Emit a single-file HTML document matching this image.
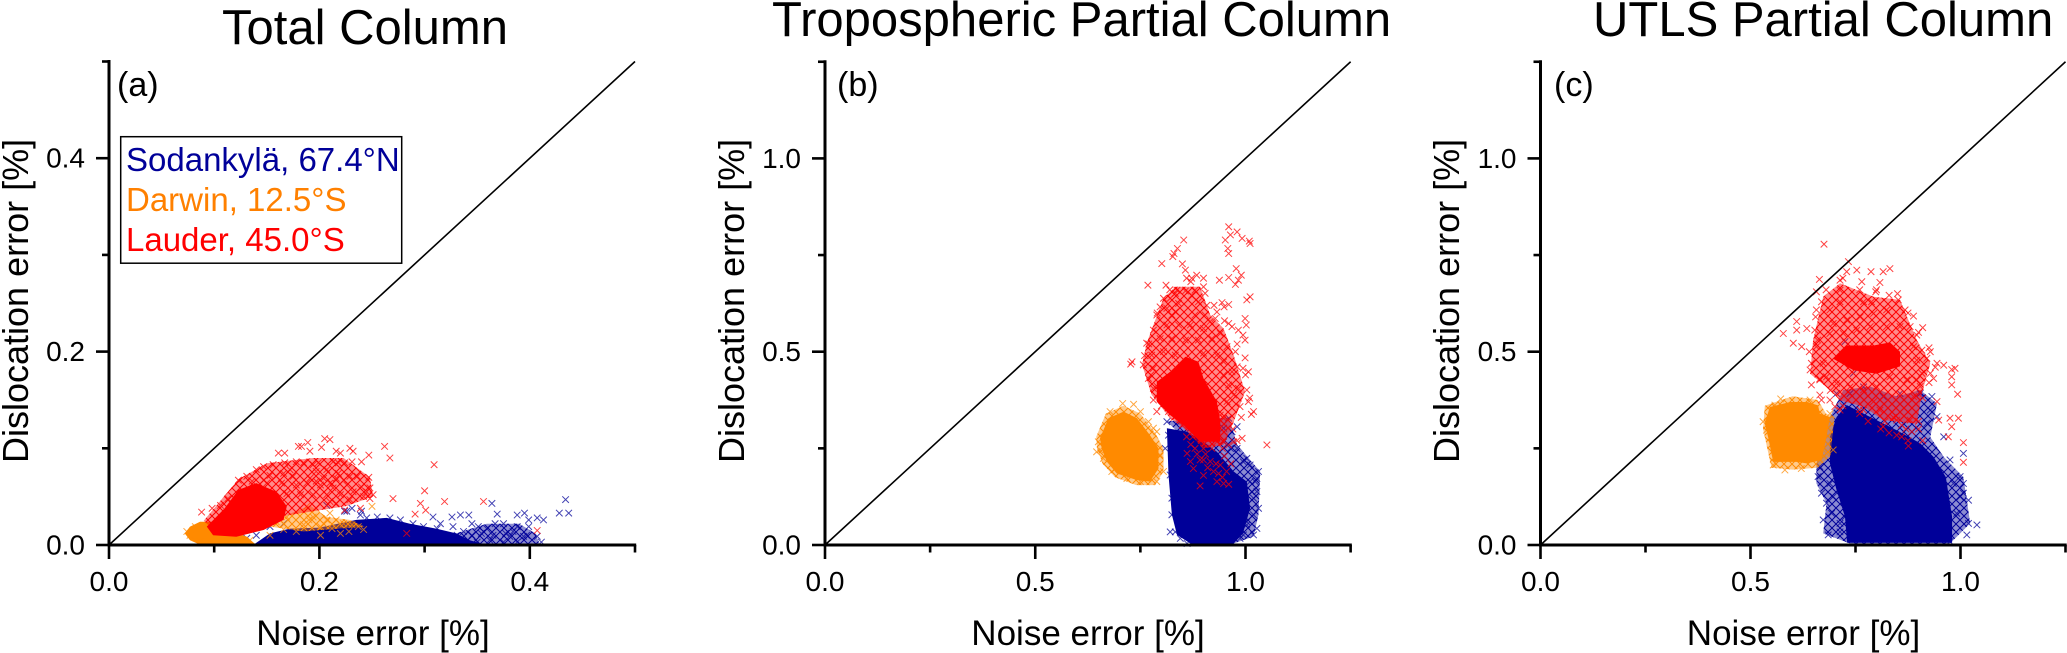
<!DOCTYPE html>
<html lang="en">
<head>
<meta charset="utf-8">
<title>Total Column, Tropospheric and UTLS Partial Column error scatter</title>
<style>
html,body{margin:0;padding:0;background:#fff;width:2067px;height:653px;overflow:hidden}
svg{display:block;font-family:"Liberation Sans",Arial,sans-serif}
</style>
</head>
<body>
<svg id="figure" xmlns="http://www.w3.org/2000/svg" width="2067" height="653" viewBox="0 0 2067 653">
<defs>
<pattern id="mesh-blue" width="8" height="8" patternUnits="userSpaceOnUse"><path d="M0 0L8 8M8 0L0 8M-4 4L4 12M4 -4L12 4M-4 4L4 -4M4 12L12 4" stroke="#000099" stroke-width="1" fill="none"/></pattern>
<pattern id="mesh-orange" width="8" height="8" patternUnits="userSpaceOnUse"><path d="M0 0L8 8M8 0L0 8M-4 4L4 12M4 -4L12 4M-4 4L4 -4M4 12L12 4" stroke="#ff8a00" stroke-width="1" fill="none"/></pattern>
<pattern id="mesh-red" width="8" height="8" patternUnits="userSpaceOnUse"><path d="M0 0L8 8M8 0L0 8M-4 4L4 12M4 -4L12 4M-4 4L4 -4M4 12L12 4" stroke="#ff0000" stroke-width="1" fill="none"/></pattern>
</defs>
<rect width="2067" height="653" fill="#fff"/>
<text x="222" y="44" font-size="49">Total Column</text>
<text x="772" y="36" font-size="49">Tropospheric Partial Column</text>
<text x="1593" y="36" font-size="49">UTLS Partial Column</text>
<g id="panel-a"></g>
<g id="panel-b"></g>
<g id="panel-c"></g>
<text x="117" y="96" font-size="34">(a)</text>
<text x="837" y="96" font-size="34">(b)</text>
<text x="1554" y="96" font-size="34">(c)</text>
<text x="373" y="645" font-size="35" text-anchor="middle">Noise error [%]</text>
<text x="1088" y="645" font-size="35" text-anchor="middle">Noise error [%]</text>
<text x="1803.5" y="645" font-size="35" text-anchor="middle">Noise error [%]</text>
<text transform="translate(28,463) rotate(-90)" font-size="36">Dislocation error [%]</text>
<text transform="translate(744,463) rotate(-90)" font-size="36">Dislocation error [%]</text>
<text transform="translate(1459,463) rotate(-90)" font-size="36">Dislocation error [%]</text>
<g>
<rect x="120.7" y="136.7" width="281" height="126.5" fill="#fff" stroke="#000" stroke-width="1.5"/>
<text x="126" y="171" font-size="33" fill="#000099">Sodankylä, 67.4°N</text>
<text x="126" y="211" font-size="33" fill="#ff8000">Darwin, 12.5°S</text>
<text x="126" y="251" font-size="33" fill="#ff0000">Lauder, 45.0°S</text>
</g>
</svg>
<script>
// Axis ticks
const ticksTotal=[0,.1,.2,.3,.4,.5];
const tickLabelsTotal=['0.0','','0.2','','0.4',''];
const ticksPartial=[0,.25,.5,.75,1,1.25];
const tickLabelsPartial=['0.0','','0.5','','1.0',''];

// Series are flat x,y,x,y value lists in percent.
// Total column
const totalSodankylaPoints=[.231,.038,.226,.035,.24,.035,.255,.029,.245,.028,.267,.028,.277,.026,.289,.022,.308,.029,.315,.022,.326,.029,.334,.031,.342,.031,.345,.022,.327,.019,.351,.019,.364,.043,.369,.032,.375,.022,.388,.031,.395,.033,.399,.026,.399,.019,.407,.028,.413,.026,.434,.047,.428,.033,.437,.033,.388,.019,.377,.012,.367,.022,.359,.017,.354,.012,.345,.01,.365,.01,.381,.009,.394,.009,.407,.009,.411,.003,.384,.014,.397,.01,.337,.014,.331,.01,.362,.005,.375,.003,.388,.003,.35,.003,.312,.017,.299,.019,.131,.007,.14,.01,.153,.019,.166,.022,.207,.041,.224,.035,.239,.031];
const totalSodankylaCore=[.137,0,.153,.012,.172,.017,.2,.018,.235,.026,.264,.028,.286,.022,.311,.017,.33,.012,.343,.005,.359,0];
const totalSodankylaHaze=[.33,.012,.359,.022,.39,.022,.405,.012,.41,0,.337,0];
const totalDarwinPoints=[.25,.04,.201,.01,.212,.017,.228,.014,.242,.016,.231,.021,.216,.026,.223,.022,.207,.026,.194,.029,.188,.04,.197,.038,.178,.014,.169,.029,.159,.024,.185,.021,.201,.019,.153,.01,.166,.016,.077,.01,.074,.014,.082,.019,.087,.004,.109,.003,.121,.005,.134,.005,.21,.033,.237,.019,.22,.012,.19,.026];
const totalDarwinCore=[.072,.012,.077,.019,.0865,.024,.099,.024,.115,.0155,.131,.0086,.14,0,.085,.001,.077,.005];
const totalDarwinHaze=[.153,.019,.169,.031,.191,.041,.207,.029,.229,.026,.243,.019,.207,.016,.185,.014];
const totalLauderPoints=[.205,.11,.21,.109,.189,.106,.183,.102,.18,.102,.191,.097,.262,.102,.267,.09,.309,.083,.229,.1,.232,.097,.202,.101,.216,.097,.22,.095,.247,.093,.24,.086,.231,.086,.213,.086,.218,.085,.224,.085,.199,.085,.194,.083,.178,.086,.167,.085,.161,.095,.167,.095,.156,.083,.147,.081,.123,.067,.14,.078,.153,.072,.166,.074,.175,.071,.191,.069,.204,.069,.216,.069,.223,.067,.236,.071,.247,.07,.24,.06,.248,.059,.251,.052,.242,.05,.226,.062,.213,.059,.201,.062,.188,.064,.178,.062,.164,.064,.15,.064,.27,.048,.3,.056,.296,.043,.301,.036,.291,.032,.319,.045,.356,.045,.239,.038,.224,.036,.21,.045,.407,.015,.283,.012,.088,.034,.098,.038,.106,.041,.113,.048,.131,.071,.136,.066,.232,.055,.22,.052,.207,.052,.194,.052,.182,.052,.169,.053,.248,.048,.245,.055,.229,.071,.207,.078,.185,.085,.172,.078,.159,.071,.147,.067,.197,.066,.21,.064,.218,.074,.197,.076,.229,.047,.216,.043];
const totalLauderCore=[.093,.019,.11,.038,.123,.057,.14,.064,.159,.055,.169,.04,.166,.026,.147,.0155,.121,.0086,.099,.01];
const totalLauderHaze=[.09,.025,.123,.068,.15,.0845,.194,.09,.223,.09,.248,.07,.251,.05,.225,.04,.2,.036,.166,.03,.13,.012,.1,.015];

// Tropospheric partial column
const tropSodankylaPoints=[.809,.25,.817,.284,.821,.181,.825,.121,.825,.078,.833,.034,.845,.017,.861,.004,1.031,.19,1.023,.164,1.027,.138,1.011,.164,1.019,.121,1.031,.095,1.027,.043,1.019,.026,1.003,.052,.987,.017,.98,.25,1.003,.224,.964,.25,1.011,.207,.96,.328,.98,.306,.968,.293,.948,.302,.9,.302,.916,.276,.869,.302,.845,.319,.813,.319,.948,.267,.849,.388,.995,.215,1.015,.138,.991,.078,1.003,.06,1.019,.078,1.027,.172,.995,.026,.821,.034];
const tropSodankylaCore=[.813,.302,.861,.293,.9,.267,.932,.241,.972,.19,1.003,.164,1.011,.095,.995,.034,.972,.004,.869,.004,.837,.026,.825,.078,.817,.181];
const tropSodankylaHaze=[.813,.32,.96,.33,.972,.29,.98,.259,1.035,.19,1.031,.078,1.019,.022,.972,.004,.97,.15];
const tropDarwinPoints=[.708,.366,.734,.364,.75,.345,.769,.319,.789,.293,.654,.246,.646,.241,.797,.233,.805,.19,.789,.164,.75,.164,.718,.172,.682,.19,.662,.224,.65,.267,.678,.345,.781,.302];
const tropDarwinCore=[.654,.276,.674,.328,.71,.345,.742,.328,.773,.284,.793,.25,.793,.198,.773,.164,.742,.168,.694,.185,.67,.216,.658,.25];
const tropDarwinHaze=[.645,.28,.668,.34,.71,.36,.75,.34,.785,.29,.805,.25,.805,.19,.785,.155,.74,.155,.69,.175,.66,.21,.647,.25];
const tropLauderPoints=[.96,.823,.98,.81,.952,.789,.964,.802,.992,.793,1.011,.78,1.009,.786,.958,.767,.96,.754,.853,.789,.838,.767,.83,.754,.827,.746,.801,.728,.85,.727,.857,.711,.978,.715,.96,.692,.99,.698,.983,.685,.976,.674,.938,.685,.884,.698,.872,.69,.87,.681,.768,.672,.811,.672,1.011,.642,1.003,.634,.9,.668,.904,.651,.833,.651,.837,.659,.857,.657,.805,.638,.821,.638,.841,.625,.872,.646,.88,.659,.888,.629,.908,.62,.944,.627,.96,.622,.949,.616,.932,.603,.797,.616,.813,.612,.833,.603,.825,.595,.789,.595,.88,.595,.904,.595,.928,.586,.916,.578,.999,.586,1.002,.569,.96,.573,.968,.565,.983,.556,.994,.543,.999,.53,.9,.56,.869,.569,.841,.569,.813,.569,.781,.556,.765,.522,.797,.534,.825,.534,.857,.53,.888,.53,.92,.534,.94,.547,.956,.513,.976,.5,.999,.484,.98,.461,.994,.457,1.007,.448,.73,.474,.727,.468,.757,.466,.777,.491,.805,.5,.833,.491,.9,.496,.932,.491,.948,.474,.968,.448,.983,.405,1.003,.401,1.007,.371,1.019,.345,1.014,.338,1.051,.259,.948,.44,.96,.414,.972,.388,.956,.371,.987,.358,.94,.336,.948,.328,.781,.457,.769,.431,.781,.405,.781,.375,.789,.345,.817,.345,.805,.388,.992,.276,.972,.267,.96,.259,.892,.153,.932,.164,.948,.159,.96,.157,.924,.19,.876,.198,.869,.216,.892,.22,.916,.216,.94,.207,.88,.25,.861,.237,.948,.267,.932,.267,.9,.25,.936,.185,.76,.49,.77,.52,.775,.44,.79,.41,.8,.36,.83,.33,.865,.31,.79,.6,.82,.66,.86,.69,.9,.69,.925,.62,.95,.58,.98,.52,1,.44,1.01,.38,.99,.33,.97,.3,.945,.25,.905,.235,.875,.28,.9,.22,.91,.2,.885,.235,.93,.21,.955,.19,.945,.175,.87,.26,.895,.27,.92,.25,.95,.23,.965,.21,.98,.27,.9,.18,.86,.28,.85,.31];
const tropLauderCore=[.789,.422,.821,.448,.857,.487,.888,.474,.9,.431,.932,.371,.94,.319,.94,.267,.892,.267,.853,.31,.821,.336,.789,.371];
const tropLauderHaze=[.781,.569,.805,.638,.833,.668,.892,.668,.916,.595,.948,.56,.972,.491,.999,.397,.972,.319,.948,.259,.9,.25,.853,.302,.821,.328,.777,.388,.754,.466,.765,.522];

// UTLS partial column
const utlsSodankylaPoints=[.725,.526,.745,.444,.705,.392,.737,.392,.769,.409,.816,.384,.856,.392,.904,.392,.932,.384,.928,.349,.944,.332,.92,.315,.96,.28,.975,.22,1.007,.237,.999,.177,.983,.159,1.007,.159,1.019,.116,1.007,.134,1.019,.056,1.015,.026,1.039,.052,.991,.082,.999,.125,.975,.009,.673,.065,.685,.026,.713,.034,.681,.108,.693,.082,.669,.134,.661,.177,.665,.203,.689,.159,.713,.056,.697,.125,.725,.073];
const utlsSodankylaCore=[.705,.331,.729,.362,.785,.331,.848,.297,.904,.263,.936,.228,.965,.176,.98,.073,.98,.006,.73,.006,.725,.073,.705,.142,.689,.211,.689,.279];
const utlsSodankylaHaze=[.657,.211,.689,.331,.721,.401,.785,.41,.848,.384,.904,.401,.944,.366,.928,.279,.96,.228,1.007,.176,1.023,.056,.975,.004,.737,.004,.673,.03,.681,.108,.657,.159];
const utlsDarwinPoints=[.53,.319,.572,.378,.582,.194,.554,.207,.621,.198,.689,.34,.697,.246,.681,.237,.538,.297,.558,.362,.642,.375];
const utlsDarwinCore=[.546,.357,.594,.37,.634,.37,.661,.361,.665,.34,.689,.331,.681,.279,.669,.219,.634,.211,.61,.215,.554,.215,.542,.279,.534,.314];
const utlsDarwinHaze=[.534,.36,.6,.385,.66,.375,.68,.34,.7,.33,.69,.23,.66,.2,.6,.195,.55,.2,.53,.3];
const utlsLauderPoints=[.675,.778,.733,.733,.664,.687,.578,.547,.832,.715,.816,.707,.787,.707,.808,.679,.753,.711,.729,.707,.765,.681,.713,.685,.713,.659,.798,.655,.83,.646,.852,.634,.769,.629,.788,.629,.713,.629,.669,.629,.689,.608,.657,.608,.657,.655,.61,.578,.61,.556,.634,.56,.622,.513,.602,.522,.653,.556,.657,.513,.642,.453,.665,.427,.645,.414,.665,.388,.669,.375,.689,.375,.888,.592,.91,.562,.896,.543,.868,.608,.824,.608,.793,.599,.761,.59,.729,.582,.697,.573,.689,.547,.88,.565,.856,.565,.824,.565,.785,.565,.753,.556,.721,.547,.888,.513,.908,.504,.928,.5,.92,.483,.896,.478,.96,.465,.979,.454,.987,.457,.979,.435,.979,.414,.993,.39,.928,.444,.936,.431,.908,.444,.896,.427,.904,.41,.872,.427,.888,.384,.944,.371,.948,.323,.975,.328,.995,.328,.979,.306,.971,.28,1.007,.265,1.007,.214,.876,.256,.848,.284,.884,.293,.816,.306,.848,.323,.88,.323,.673,.47,.681,.435,.705,.418,.832,.435,.8,.41,.769,.401,.737,.409,.769,.349,.808,.349,.793,.371,.713,.349,.701,.358,.944,.47,.66,.53,.655,.59,.68,.66,.72,.69,.76,.66,.8,.66,.85,.65,.875,.6,.9,.55,.925,.51,.94,.46,.925,.42,.91,.38,.9,.32,.86,.31,.82,.32,.76,.35,.72,.36,.69,.4,.665,.43,.645,.47,.64,.5,.76,.34,.78,.32,.81,.3,.83,.29,.86,.28,.875,.27,.87,.3,.84,.33,.9,.3,.91,.27];
const utlsLauderCore=[.697,.482,.729,.516,.793,.516,.832,.524,.856,.5,.856,.462,.8,.443,.745,.452];
const utlsLauderHaze=[.649,.53,.673,.642,.713,.677,.793,.642,.856,.634,.896,.53,.928,.47,.908,.392,.896,.314,.816,.323,.769,.358,.713,.374,.689,.401,.642,.443];

const NS='http://www.w3.org/2000/svg';
const BLUE='#000099',ORANGE='#ff8a00',RED='#ff0000';

function makeScale(origin,pxPerUnit){return function(v){return origin+v*pxPerUnit;};}

function drawCloud(g,sx,sy,color,mesh,haze,core,points,label){
  const cloud=document.createElementNS(NS,'g');
  
  
  g.appendChild(cloud);
  [[haze,color,.45,'density-tint'],[haze,'url(#'+mesh+')',1,'density-haze'],[core,color,1,'density-core']].forEach(function(spec){
    if(!spec[0])return;
    let pts='';
    for(let i=0;i<spec[0].length;i+=2){pts+=sx(spec[0][i]).toFixed(1)+','+sy(spec[0][i+1]).toFixed(1)+' ';}
    const poly=document.createElementNS(NS,'polygon');
    
    
    poly.setAttribute('points',pts);
    poly.setAttribute('fill',spec[1]);
    poly.setAttribute('fill-opacity',spec[2]);
    cloud.appendChild(poly);
  });
  for(let i=0;i<points.length;i+=2){
    const x=sx(points[i]),y=sy(points[i+1]),r=3.3;
    const m=document.createElementNS(NS,'path');
    
    
    m.setAttribute('d','M'+(x-r).toFixed(1)+' '+(y-r).toFixed(1)+'L'+(x+r).toFixed(1)+' '+(y+r).toFixed(1)+'M'+(x-r).toFixed(1)+' '+(y+r).toFixed(1)+'L'+(x+r).toFixed(1)+' '+(y-r).toFixed(1));
    m.setAttribute('stroke',color);
    m.setAttribute('stroke-width','1');
    m.setAttribute('stroke-opacity','.75');
    m.setAttribute('fill','none');
    cloud.appendChild(m);
  }
}

function drawLine(g,x1,y1,x2,y2,w,name){
  const l=document.createElementNS(NS,'line');
  
  
  l.setAttribute('x1',x1);
  l.setAttribute('y1',y1);
  l.setAttribute('x2',x2);
  l.setAttribute('y2',y2);
  l.setAttribute('stroke','#000');
  l.setAttribute('stroke-width',w);
  g.appendChild(l);
}

function drawLabel(g,x,y,anchor,txt,name){
  const t=document.createElementNS(NS,'text');
  
  
  t.setAttribute('x',x);
  t.setAttribute('y',y);
  t.setAttribute('text-anchor',anchor);
  t.setAttribute('font-size','28');
  t.textContent=txt;
  g.appendChild(t);
}

function drawAxes(g,sx,sy,ticks,labels){
  const top=ticks[ticks.length-1];
  drawLine(g,sx(0),sy(0),sx(top),sy(top),1.6,'one-to-one-line');
  drawLine(g,sx(0),sy(0)+1.5,sx(0),sy(top)-1.5,3,'y-axis-line');
  drawLine(g,sx(0),sy(0),sx(top)+1.2,sy(0),3,'x-axis-line');
  ticks.forEach(function(v,i){
    const major=labels[i]!=='';
    drawLine(g,sx(v),sy(0),sx(v),sy(0)+(major?14:7.5),2.6,'x-tick');
    drawLine(g,sx(0),sy(v),sx(0)-(major?13:7),sy(v),2.6,'y-tick');
    if(major){
      drawLabel(g,sx(v),591,'middle',labels[i],'x-tick-label');
      drawLabel(g,sx(0)-24,sy(v)+9.5,'end',labels[i],'y-tick-label');
    }
  });
}

function drawPanel(id,x0,pxPerUnitX,pxPerUnitY,ticks,labels,clouds){
  const g=document.getElementById(id);
  const sx=makeScale(x0,pxPerUnitX),sy=makeScale(545,-pxPerUnitY);
  clouds.forEach(function(c){drawCloud(g,sx,sy,c[0],c[1],c[2],c[3],c[4],c[5]);});
  drawAxes(g,sx,sy,ticks,labels);
}

drawPanel('panel-a',109,1052,967,ticksTotal,tickLabelsTotal,[
  [BLUE,'mesh-blue',totalSodankylaHaze,totalSodankylaCore,totalSodankylaPoints,'sodankyla'],
  [ORANGE,'mesh-orange',totalDarwinHaze,totalDarwinCore,totalDarwinPoints,'darwin'],
  [RED,'mesh-red',totalLauderHaze,totalLauderCore,totalLauderPoints,'lauder']
]);
drawPanel('panel-b',825,420.5,386.6,ticksPartial,tickLabelsPartial,[
  [BLUE,'mesh-blue',tropSodankylaHaze,tropSodankylaCore,tropSodankylaPoints,'sodankyla'],
  [ORANGE,'mesh-orange',tropDarwinHaze,tropDarwinCore,tropDarwinPoints,'darwin'],
  [RED,'mesh-red',tropLauderHaze,tropLauderCore,tropLauderPoints,'lauder']
]);
drawPanel('panel-c',1540.5,420,386.6,ticksPartial,tickLabelsPartial,[
  [BLUE,'mesh-blue',utlsSodankylaHaze,utlsSodankylaCore,utlsSodankylaPoints,'sodankyla'],
  [ORANGE,'mesh-orange',utlsDarwinHaze,utlsDarwinCore,utlsDarwinPoints,'darwin'],
  [RED,'mesh-red',utlsLauderHaze,utlsLauderCore,utlsLauderPoints,'lauder']
]);
</script>
</body>
</html>
